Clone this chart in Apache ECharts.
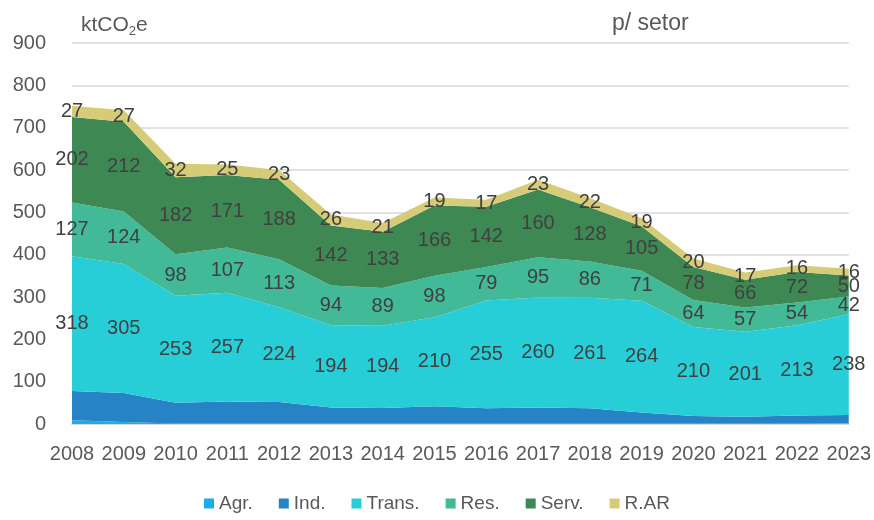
<!DOCTYPE html>
<html><head><meta charset="utf-8">
<script src="https://cdn.jsdelivr.net/npm/echarts@6/dist/echarts.min.js"></script>
<style>html,body{margin:0;padding:0;background:#fff}#c{width:874px;height:520px}</style>
</head><body><div id="c"></div>
<script>
const years = ['2008','2009','2010','2011','2012','2013','2014','2015','2016','2017','2018','2019','2020','2021','2022','2023'];
const agr   = [9,5,1,1,1,1,1,1,1,1,1,1,1,1,1,1];
const ind   = [69,68,49,52,51,38,37,41,36,38,36,26,18,16,19,20];
const trans = [318,305,253,257,224,194,194,210,255,260,261,264,210,201,213,238];
const res   = [127,124,98,107,113,94,89,98,79,95,86,71,64,57,54,42];
const serv  = [202,212,182,171,188,142,133,166,142,160,128,105,78,66,72,50];
const rar   = [27,27,32,25,23,26,21,19,17,23,22,19,20,17,16,16];
const yTicks = [0,100,200,300,400,500,600,700,800,900];

const names = ['Agr.','Ind.','Trans.','Res.','Serv.','R.AR'];
const colors = ['#1CADE4','#2683C6','#27CED7','#42BA97','#3E8853','#D6CC78'];
const seriesData = [agr, ind, trans, res, serv, rar];
const labelled = [false,false,true,true,true,true];
const FONT = 'Liberation Sans, Arial, sans-serif';

const series = [];
seriesData.forEach((d, k) => {
  series.push({
    name: names[k], type: 'line', stack: 'tot', data: d,
    symbol: 'none', lineStyle: {width: 0}, areaStyle: {color: colors[k], opacity: 1},
    itemStyle: {color: colors[k]}, z: 2
  });
});
// label helpers: band midpoints computed from the arrays
seriesData.forEach((d, k) => {
  if (!labelled[k]) return;
  const mids = d.map((v, i) => {
    let base = 0;
    for (let j = 0; j < k; j++) base += seriesData[j][i];
    return {value: base + v / 2, lab: v};
  });
  series.push({
    name: 'lbl' + k, type: 'line', data: mids, symbol: 'circle', symbolSize: 1,
    showSymbol: true, showAllSymbol: true, silent: true,
    itemStyle: {color: 'rgba(0,0,0,0)'},
    lineStyle: {opacity: 0}, z: 5,
    label: {show: true, position: 'inside', color: '#404040', fontSize: 20, fontFamily: FONT,
      formatter: p => String(p.data.lab)},
    labelLayout: {hideOverlap: false}
  });
});

const chart = echarts.init(document.getElementById('c'));
chart.setOption({
  animation: false,
  backgroundColor: '#fff',
  title: [
    {text: '{a|ktCO}{s|2}{a|e}', left: 76, top: 8,
     textStyle: {fontWeight: 'normal', rich: {a: {fontSize: 21, color: '#595959', fontFamily: FONT, fontWeight: 'normal'},
                        s: {fontSize: 13, color: '#595959', fontFamily: FONT, fontWeight: 'normal', padding: [12,0,0,0]}}}},
    {text: 'p/ setor', left: 607, top: 7, textStyle: {fontSize: 23, fontWeight: 'normal', color: '#595959', fontFamily: FONT}}
  ],
  legend: {
    data: names, bottom: 2, left: 'center', icon: 'rect', itemWidth: 10, itemHeight: 10, itemGap: 26,
    textStyle: {fontSize: 19, color: '#595959', fontFamily: FONT}
  },
  grid: {left: 72, right: 24, top: 43, bottom: 96},
  xAxis: {
    type: 'category', data: years, boundaryGap: false,
    axisLine: {lineStyle: {color: '#d9d9d9', width: 2}}, axisTick: {show: false},
    axisLabel: {fontSize: 20, color: '#595959', fontFamily: FONT, margin: 20, interval: 0}
  },
  yAxis: {
    type: 'value', min: yTicks[0], max: yTicks[yTicks.length-1], interval: 100,
    axisLine: {show: false}, axisTick: {show: false},
    splitLine: {lineStyle: {color: '#d9d9d9', width: 1.5}},
    axisLabel: {fontSize: 20, color: '#595959', fontFamily: FONT, margin: 26}
  },
  series: series
});
</script></body></html>
